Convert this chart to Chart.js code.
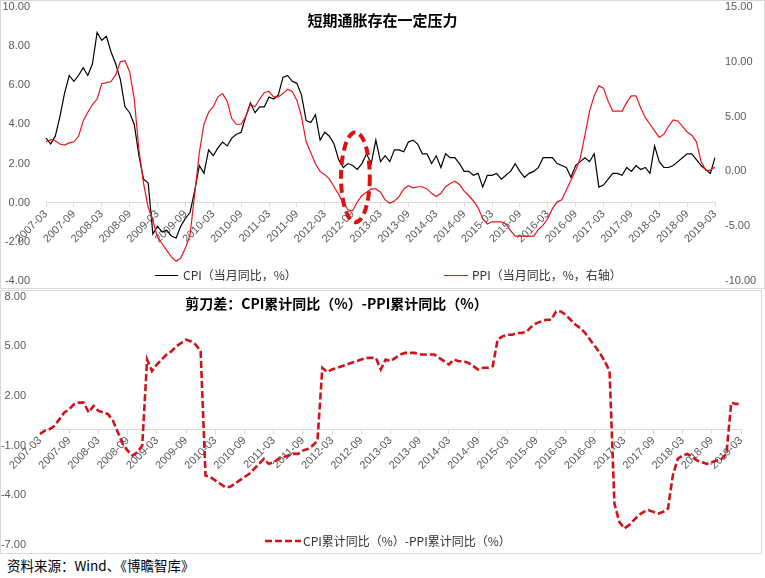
<!DOCTYPE html>
<html>
<head>
<meta charset="utf-8">
<script src="https://cdn.jsdelivr.net/npm/chart.js@4.4.1/dist/chart.umd.min.js"></script>
<style>
html,body{margin:0;padding:0;background:#fff;}
body{width:765px;height:578px;position:relative;overflow:hidden;font-family:"Noto Sans CJK SC","Noto Sans",sans-serif;}
.panel{position:absolute;border:1px solid #d9d9d9;box-sizing:border-box;}
#p1{left:0;top:0;width:765px;height:289px;}
#p2{left:0;top:290px;width:762px;height:264px;}
canvas{position:absolute;left:0;}
#c1{top:0;}
#c2{top:290px;}
.t{position:absolute;white-space:nowrap;}
.title{font-weight:bold;color:#000;}
.leg{font-size:12px;line-height:16px;color:#333;}
.legline{position:absolute;height:0;}
</style>
</head>
<body>
<div class="panel" id="p1"></div>
<div class="panel" id="p2"></div>
<canvas id="c1" width="765" height="289"></canvas>
<canvas id="c2" width="765" height="264"></canvas>

<div class="t title" style="left:0;width:765px;text-align:center;top:10px;font-size:15px;line-height:20px;">短期通胀存在一定压力</div>
<div class="legline" style="left:155px;top:275px;width:23px;border-top:1px solid #000;"></div>
<div class="t leg" style="left:183px;top:267px;">CPI（当月同比，%）</div>
<div class="legline" style="left:444px;top:275px;width:24px;border-top:1px solid #e8141c;"></div>
<div class="t leg" style="left:472px;top:267px;">PPI（当月同比，%，右轴）</div>

<div class="t title" style="left:0;width:673px;text-align:center;top:293px;font-size:14px;line-height:20px;">剪刀差：CPI累计同比（%）-PPI累计同比（%）</div>
<svg style="position:absolute;left:264px;top:538px;" width="38" height="6"><line x1="1" y1="3" x2="37" y2="3" stroke="#d0121b" stroke-width="2.6" stroke-dasharray="7,3"/></svg>
<div class="t leg" style="left:303px;top:533px;">CPI累计同比（%）-PPI累计同比（%）</div>

<div class="t" style="left:7px;top:556px;font-size:13.5px;line-height:18px;color:#000;">资料来源：Wind、《博瞻智库》</div>

<script>
// ---- categories (monthly, 2007-03 .. 2019-03) ----
const months = [
 '2007-03','2007-04','2007-05','2007-06','2007-07','2007-08','2007-09','2007-10','2007-11','2007-12',
 '2008-01','2008-02','2008-03','2008-04','2008-05','2008-06','2008-07','2008-08','2008-09','2008-10','2008-11','2008-12',
 '2009-01','2009-02','2009-03','2009-04','2009-05','2009-06','2009-07','2009-08','2009-09','2009-10','2009-11','2009-12',
 '2010-01','2010-02','2010-03','2010-04','2010-05','2010-06','2010-07','2010-08','2010-09','2010-10','2010-11','2010-12',
 '2011-01','2011-02','2011-03','2011-04','2011-05','2011-06','2011-07','2011-08','2011-09','2011-10','2011-11','2011-12',
 '2012-01','2012-02','2012-03','2012-04','2012-05','2012-06','2012-07','2012-08','2012-09','2012-10','2012-11','2012-12',
 '2013-01','2013-02','2013-03','2013-04','2013-05','2013-06','2013-07','2013-08','2013-09','2013-10','2013-11','2013-12',
 '2014-01','2014-02','2014-03','2014-04','2014-05','2014-06','2014-07','2014-08','2014-09','2014-10','2014-11','2014-12',
 '2015-01','2015-02','2015-03','2015-04','2015-05','2015-06','2015-07','2015-08','2015-09','2015-10','2015-11','2015-12',
 '2016-01','2016-02','2016-03','2016-04','2016-05','2016-06','2016-07','2016-08','2016-09','2016-10','2016-11','2016-12',
 '2017-01','2017-02','2017-03','2017-04','2017-05','2017-06','2017-07','2017-08','2017-09','2017-10','2017-11','2017-12',
 '2018-01','2018-02','2018-03','2018-04','2018-05','2018-06','2018-07','2018-08','2018-09','2018-10','2018-11','2018-12',
 '2019-01','2019-02','2019-03'
];

// ---- CPI 当月同比 (%) ----
const cpiMonthly = [
 3.3,3.0,3.4,4.4,5.6,6.5,6.2,6.5,6.9,6.5,
 7.1,8.7,8.3,8.5,7.7,7.1,6.3,4.9,4.6,4.0,2.4,1.2,
 1.0,-1.6,-1.2,-1.5,-1.4,-1.7,-1.8,-1.2,-0.8,-0.5,0.6,1.9,
 1.5,2.7,2.4,2.8,3.1,2.9,3.3,3.5,3.6,4.4,5.1,4.6,
 4.9,4.9,5.4,5.3,5.5,6.4,6.5,6.2,6.1,5.5,4.2,4.1,
 4.5,3.2,3.6,3.4,3.0,2.2,1.8,2.0,1.9,1.7,2.0,2.5,
 2.0,3.2,2.1,2.4,2.1,2.7,2.7,2.6,3.1,3.2,3.0,2.5,
 2.5,2.0,2.4,1.8,2.5,2.3,2.3,2.0,1.6,1.6,1.4,1.5,
 0.8,1.4,1.4,1.5,1.2,1.4,1.6,2.0,1.6,1.3,1.5,1.6,
 1.8,2.3,2.3,2.3,2.0,1.9,1.8,1.3,1.9,2.1,2.3,2.1,
 2.5,0.8,0.9,1.2,1.5,1.5,1.4,1.8,1.6,1.9,1.7,1.8,
 1.5,2.9,2.1,1.8,1.8,1.9,2.1,2.3,2.5,2.5,2.2,1.9,
 1.7,1.5,2.3
];

// ---- PPI 当月同比 (%, 右轴) ----
const ppiMonthly = [
 2.7,2.9,2.8,2.5,2.4,2.6,2.7,3.2,4.6,5.4,
 6.1,6.6,8.0,8.1,8.2,8.8,10.0,10.1,9.1,6.6,2.0,-1.1,
 -3.3,-4.5,-6.0,-6.6,-7.2,-7.8,-8.2,-7.9,-7.0,-5.8,-2.1,1.7,
 4.3,5.4,5.9,6.8,7.1,6.4,4.8,4.3,4.3,5.0,6.1,5.9,
 6.6,7.2,7.3,6.8,6.8,7.1,7.5,7.3,6.5,5.0,2.7,1.7,
 0.7,0.0,-0.3,-0.7,-1.4,-2.1,-2.9,-3.5,-3.6,-2.8,-2.2,-1.9,
 -1.6,-1.6,-1.9,-2.6,-2.9,-2.7,-2.3,-1.6,-1.3,-1.5,-1.4,-1.4,
 -1.6,-2.0,-2.3,-2.0,-1.4,-1.1,-0.9,-1.2,-1.8,-2.2,-2.7,-3.3,
 -4.3,-4.8,-4.6,-4.6,-4.6,-4.8,-5.4,-5.9,-5.9,-5.9,-5.9,-5.9,
 -5.3,-4.9,-4.3,-3.4,-2.8,-2.6,-1.7,-0.8,0.1,1.2,3.3,5.5,
 6.9,7.8,7.6,6.4,5.5,5.5,5.5,6.3,6.9,6.9,5.8,4.9,
 4.3,3.7,3.1,3.4,4.1,4.7,4.6,4.1,3.6,3.3,2.7,0.9,
 0.1,0.1,0.4
];

// ---- 剪刀差：CPI累计同比 - PPI累计同比 (%) ----
const scissorsGap = [
 -0.3,-0.1,0.0,0.2,0.6,1.0,1.2,1.5,1.6,1.6,
 1.0,1.4,1.1,1.0,0.9,0.5,-0.2,-0.9,-1.3,-1.6,-1.4,-1.0,
 4.2,3.5,3.9,4.2,4.5,4.7,5.0,5.2,5.4,5.3,5.1,4.7,
 -2.8,-2.9,-3.1,-3.3,-3.5,-3.5,-3.3,-3.1,-2.9,-2.7,-2.4,-2.1,
 -1.8,-2.1,-2.0,-1.8,-1.7,-1.6,-1.5,-1.5,-1.3,-1.2,-1.0,-0.7,
 3.7,3.45,3.6,3.7,3.8,3.9,4.0,4.1,4.2,4.3,4.3,4.3,
 3.6,4.2,4.1,4.3,4.5,4.6,4.6,4.6,4.5,4.5,4.5,4.5,
 4.3,4.1,3.9,4.2,4.1,4.1,4.0,3.8,3.6,3.7,3.7,3.8,
 5.4,5.6,5.7,5.7,5.8,5.8,5.9,6.2,6.4,6.5,6.6,6.6,
 7.1,7.1,6.9,6.6,6.3,6.1,5.8,5.4,5.0,4.6,4.1,3.5,
 -4.5,-5.6,-6.0,-5.8,-5.5,-5.2,-5.0,-4.9,-5.0,-5.1,-5.0,-4.8,
 -2.8,-1.8,-1.6,-1.5,-1.7,-1.9,-2.0,-2.1,-2.0,-1.9,-1.8,-1.5,
 1.6,1.5,1.6
];

// ---- axis ranges / tick steps ----
const topLeftAxis = {min:-4, max:10, step:2};
const topRightAxis = {min:-10, max:15, step:5};
const bottomAxis = {min:-7, max:8, step:3};
const labelEvery = 6;

// ---- dashed ellipse highlight (in data units) ----
const ellipseNote = {centerIndex:66.6, centerValue:1.3, halfMonths:3.1, halfValue:2.3};

const tickFont = {family:'"Liberation Sans", Arial, sans-serif', size:11};
const tickColor = '#595959';
const axisColor = '#d9d9d9';

function xAxis(){
  return {
    type:'category',
    position:{y:0},
    offset:false,
    afterFit:s=>{s.height=0;},
    border:{display:true,color:axisColor,width:1},
    grid:{drawOnChartArea:false,drawTicks:true,tickLength:4,
      tickColor:c=>(c.index % labelEvery === 0 ? axisColor : 'rgba(0,0,0,0)')},
    ticks:{autoSkip:false,minRotation:45,maxRotation:45,padding:1,color:tickColor,font:tickFont,
      callback:function(v,i){return i % labelEvery === 0 ? this.getLabelForValue(v) : '';}}
  };
}

// vertical axis with hidden grid; gap between labels and plot comes from the (invisible) tick length
function yAxis(pos, range, boxWidth, gap){
  return {
    position:pos, min:range.min, max:range.max,
    afterFit:s=>{s.width=boxWidth;},
    grid:{display:false, drawTicks:true, tickLength:gap},
    border:{display:false},
    ticks:{stepSize:range.step, padding:0, color:tickColor, font:tickFont, callback:v=>Number(v).toFixed(2)}
  };
}

const ellipsePlugin = {
  id:'ellipseNote',
  afterDatasetsDraw(chart){
    const xs = chart.scales.x, ys = chart.scales.y, ctx = chart.ctx;
    const cx = xs.getPixelForValue(ellipseNote.centerIndex);
    const rx = Math.abs(xs.getPixelForValue(ellipseNote.centerIndex + ellipseNote.halfMonths) - cx);
    const cy = ys.getPixelForValue(ellipseNote.centerValue);
    const ry = Math.abs(ys.getPixelForValue(ellipseNote.centerValue + ellipseNote.halfValue) - cy);
    ctx.save();
    ctx.beginPath();
    ctx.ellipse(cx, cy, rx, ry, 0, 0, Math.PI*2);
    ctx.lineWidth = 4;
    ctx.setLineDash([9,5]);
    ctx.strokeStyle = '#e00e0e';
    ctx.stroke();
    ctx.restore();
  }
};

new Chart(document.getElementById('c1'), {
  type:'line',
  data:{labels:months, datasets:[
    {label:'CPI（当月同比，%）', data:cpiMonthly, yAxisID:'y', borderColor:'#000000', borderWidth:1.2, pointRadius:0, tension:0, order:1},
    {label:'PPI（当月同比，%，右轴）', data:ppiMonthly, yAxisID:'y1', borderColor:'#e8141c', borderWidth:1.2, pointRadius:0, tension:0, order:0}
  ]},
  options:{
    responsive:false, animation:false, devicePixelRatio:1,
    layout:{padding:{top:7,bottom:8,left:0,right:0}},
    plugins:{legend:{display:false},title:{display:false},tooltip:{enabled:false}},
    scales:{
      x:xAxis(),
      y:yAxis('left', topLeftAxis, 46, 16),
      y1:yAxis('right', topRightAxis, 50, 10)
    }
  },
  plugins:[ellipsePlugin]
});

new Chart(document.getElementById('c2'), {
  type:'line',
  data:{labels:months, datasets:[
    {label:'CPI累计同比（%）-PPI累计同比（%）', data:scissorsGap, yAxisID:'y', borderColor:'#d0121b', borderWidth:2.6, borderDash:[7,3], pointRadius:0, tension:0}
  ]},
  options:{
    responsive:false, animation:false, devicePixelRatio:1,
    layout:{padding:{top:6,bottom:9,left:0,right:24}},
    plugins:{legend:{display:false},title:{display:false},tooltip:{enabled:false}},
    scales:{
      x:xAxis(),
      y:yAxis('left', bottomAxis, 40, 14)
    }
  }
});
</script>
</body>
</html>
